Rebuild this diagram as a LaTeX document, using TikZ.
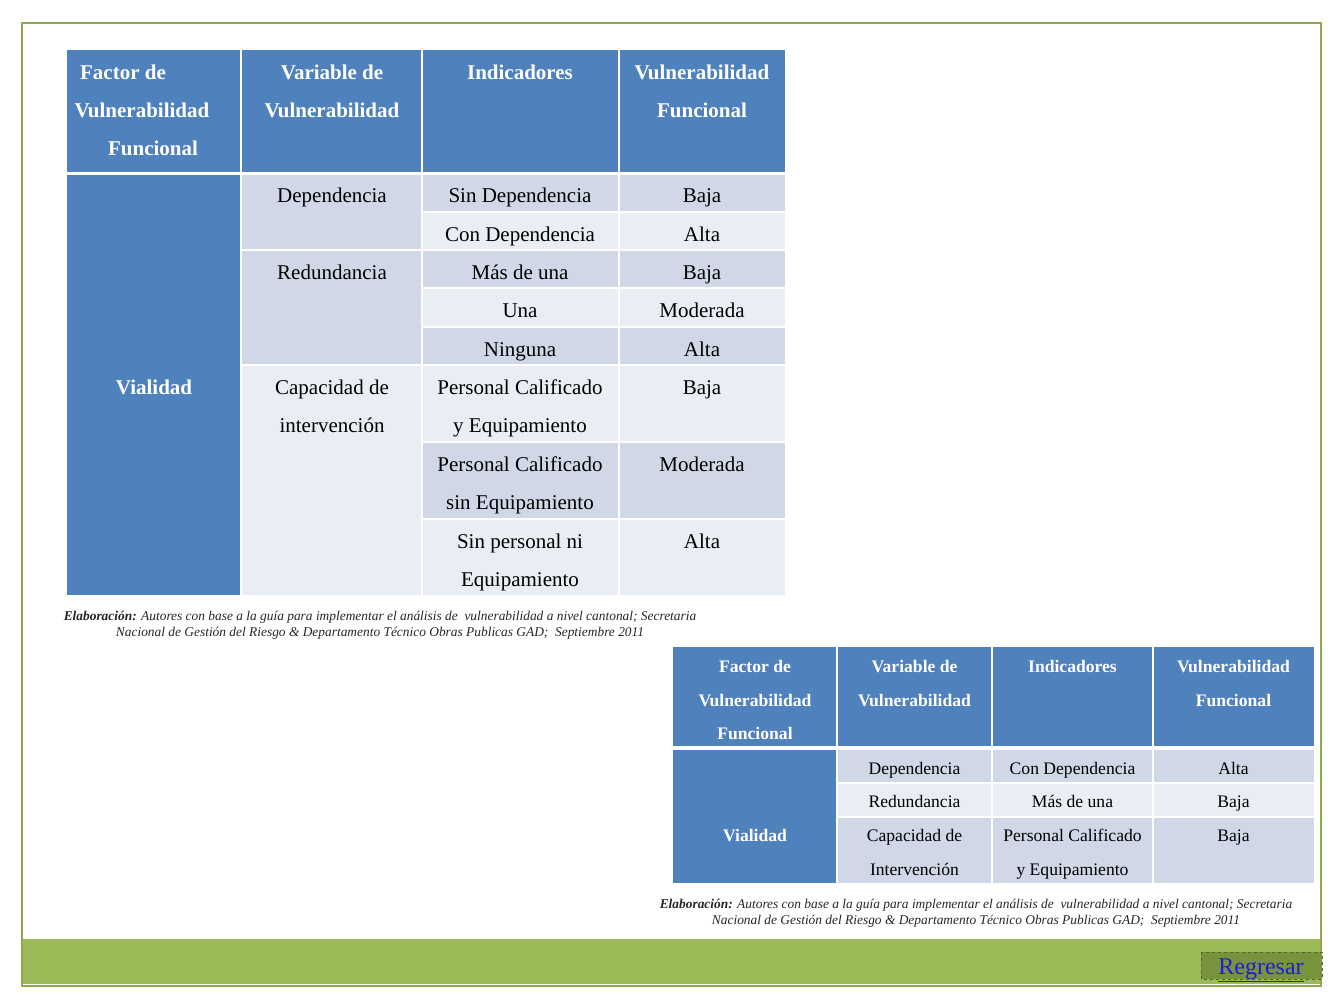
\documentclass[tikz,border=0pt]{standalone}
\usepackage{fontspec}
\setmainfont{Liberation Serif}
\definecolor{hdr}{HTML}{4F81BD}
\definecolor{dk}{HTML}{D0D8E8}
\definecolor{lt}{HTML}{E9EDF4}
\definecolor{band}{HTML}{9BBB59}
\definecolor{frm}{HTML}{8FA84E}
\definecolor{btn}{HTML}{77933C}
\definecolor{lnk}{RGB}{30,30,210}
\begin{document}
\begin{tikzpicture}[x=1pt,y=-1pt,
  ta/.style={font=\fontsize{21}{38}\selectfont, inner sep=0pt, text height=17pt, text depth=2pt, text=black},
  tah/.style={ta, font=\fontsize{21}{38}\selectfont\bfseries, text=white},
  tb/.style={font=\fontsize{17.6}{33}\selectfont, inner sep=0pt, text height=14pt, text depth=2pt, text=black},
  tbh/.style={tb, font=\fontsize{17.6}{33}\selectfont\bfseries, text=white},
  capt/.style={font=\fontsize{13.4}{16}\selectfont\itshape, inner sep=0pt, text=black!85},
  sep/.style={white, line width=1.5pt}]
\useasboundingbox (0,0) rectangle (1344,1008);
% frame and band
\fill[white] (0,0) rectangle (1344,1008);
\fill[band] (22,939) rectangle (1321,984);
\draw[frm, line width=1.3pt] (22,23) rectangle (1321,986);
% ---------- table 1 ----------
\fill[hdr] (67,50) rectangle (785,172);
\fill[hdr] (67,175) rectangle (241,595);
\fill[dk] (241,175) rectangle (422,365);
\fill[lt] (241,365) rectangle (422,595);
\fill[dk] (422,175) rectangle (785,212);
\fill[lt] (422,212) rectangle (785,250);
\fill[dk] (422,250) rectangle (785,288);
\fill[lt] (422,288) rectangle (785,327);
\fill[dk] (422,327) rectangle (785,365);
\fill[lt] (422,365) rectangle (785,442);
\fill[dk] (422,442) rectangle (785,519);
\fill[lt] (422,519) rectangle (785,595);
\foreach \xx in {241,422,619} \draw[sep] (\xx,50) -- (\xx,595);
\foreach \yy in {212,288,327,442,519} \draw[sep] (422,\yy) -- (785,\yy);
\foreach \yy in {250,365} \draw[sep] (241,\yy) -- (785,\yy);
% header text
\node[tah] (a1) at (123,72) {Factor de};
\node[tah] (a2) at (142,110) {Vulnerabilidad};
\node[tah] (a3) at (153,148) {Funcional};
\node[tah] (b1) at (332,72) {Variable de};
\node[tah] (b2) at (332,110) {Vulnerabilidad};
\node[tah] (c1) at (520,72) {Indicadores};
\node[tah] (d1) at (702,72) {Vulnerabilidad};
\node[tah] (d2) at (702,110) {Funcional};
% body text
\node[tah] (via) at (154,387) {Vialidad};
\node[ta] (v1) at (332,195) {Dependencia};
\node[ta] (v2) at (332,272) {Redundancia};
\node[ta] (v3) at (332,387) {Capacidad de};
\node[ta] (v4) at (332,425) {intervención};
\node[ta] (i1) at (520,195) {Sin Dependencia};
\node[ta] (i2) at (520,234) {Con Dependencia};
\node[ta] (i3) at (520,272) {Más de una};
\node[ta] (i4) at (520,310) {Una};
\node[ta] (i5) at (520,349) {Ninguna};
\node[ta] (i6) at (520,387) {Personal Calificado};
\node[ta] (i7) at (520,425) {y Equipamiento};
\node[ta] (i8) at (520,464) {Personal Calificado};
\node[ta] (i9) at (520,502) {sin Equipamiento};
\node[ta] (i10) at (520,541) {Sin personal ni};
\node[ta] (i11) at (520,579) {Equipamiento};
\node[ta] (f1) at (702,195) {Baja};
\node[ta] (f2) at (702,234) {Alta};
\node[ta] (f3) at (702,272) {Baja};
\node[ta] (f4) at (702,310) {Moderada};
\node[ta] (f5) at (702,349) {Alta};
\node[ta] (f6) at (702,387) {Baja};
\node[ta] (f7) at (702,464) {Moderada};
\node[ta] (f8) at (702,541) {Alta};
% caption 1
\node[capt] (k1) at (380,617) {\textbf{Elaboración:} Autores con base a la guía para implementar el análisis de \ vulnerabilidad a nivel cantonal; Secretaria};
\node[capt] (k2) at (380,633) {Nacional de Gestión del Riesgo \& Departamento Técnico Obras Publicas GAD; \ Septiembre 2011};
% ---------- table 2 ----------
\fill[hdr] (673,647) rectangle (1314,746);
\fill[hdr] (673,750) rectangle (837,883);
\fill[dk] (837,750) rectangle (1314,783);
\fill[lt] (837,783) rectangle (1314,817);
\fill[dk] (837,817) rectangle (1314,883);
\foreach \xx in {837,992,1153} \draw[sep] (\xx,647) -- (\xx,883);
\foreach \yy in {783,817} \draw[sep] (837,\yy) -- (1314,\yy);
\node[tbh] (p1) at (755,666) {Factor de};
\node[tbh] (p2) at (755,700) {Vulnerabilidad};
\node[tbh] (p3) at (755,733) {Funcional};
\node[tbh] (q1) at (914.5,666) {Variable de};
\node[tbh] (q2) at (914.5,700) {Vulnerabilidad};
\node[tbh] (r1) at (1072.5,666) {Indicadores};
\node[tbh] (s1) at (1233.5,666) {Vulnerabilidad};
\node[tbh] (s2) at (1233.5,700) {Funcional};
\node[tbh] (via2) at (755,835) {Vialidad};
\node[tb] (w1) at (914.5,768) {Dependencia};
\node[tb] (w2) at (914.5,801) {Redundancia};
\node[tb] (w3) at (914.5,835) {Capacidad de};
\node[tb] (w4) at (914.5,869) {Intervención};
\node[tb] (j1) at (1072.5,768) {Con Dependencia};
\node[tb] (j2) at (1072.5,801) {Más de una};
\node[tb] (j3) at (1072.5,835) {Personal Calificado};
\node[tb] (j4) at (1072.5,869) {y Equipamiento};
\node[tb] (g1) at (1233.5,768) {Alta};
\node[tb] (g2) at (1233.5,801) {Baja};
\node[tb] (g3) at (1233.5,835) {Baja};
% caption 2
\node[capt] (m1) at (976,905) {\textbf{Elaboración:} Autores con base a la guía para implementar el análisis de \ vulnerabilidad a nivel cantonal; Secretaria};
\node[capt] (m2) at (976,921) {Nacional de Gestión del Riesgo \& Departamento Técnico Obras Publicas GAD; \ Septiembre 2011};
% button
\draw[btn!70!black, fill=btn, dashed, line width=0.8pt] (1201,952) rectangle (1322,979);
\node[font=\fontsize{24}{28}\selectfont, text=lnk, inner sep=0pt] (reg) at (1261,970) {\underline{Regresar}};
\end{tikzpicture}
\end{document}
